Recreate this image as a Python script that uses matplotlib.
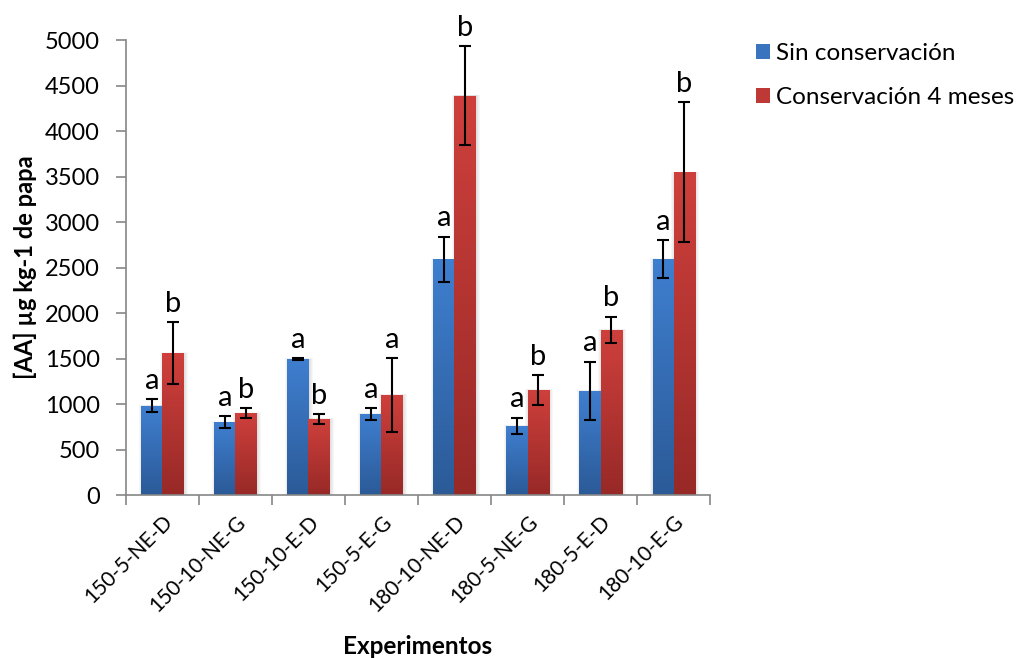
import matplotlib
matplotlib.use("Agg")
import matplotlib.pyplot as plt
import numpy as np
from matplotlib.colors import LinearSegmentedColormap
from matplotlib.patches import Rectangle

plt.rcParams['font.family'] = ['Lato', 'DejaVu Sans']

experimentos = ['150-5-NE-D', '150-10-NE-G', '150-10-E-D', '150-5-E-G',
                '180-10-NE-D', '180-5-NE-G', '180-5-E-D', '180-10-E-G']
sin_cons = [980, 800, 1495, 890, 2590, 758, 1143, 2593]
sin_err = [70, 65, 8, 65, 247, 92, 320, 205]
con_cons = [1560, 900, 835, 1099, 4390, 1154, 1813, 3546]
con_err = [340, 55, 55, 405, 540, 165, 145, 770]
letras_sin = ['a', 'a', 'a', 'a', 'a', 'a', 'a', 'a']
letras_con = ['b', 'b', 'b', 'a', 'b', 'b', 'b', 'b']

azul = LinearSegmentedColormap.from_list('azul', ['#2B5A97', '#3F7FD0'])
rojo = LinearSegmentedColormap.from_list('rojo', ['#972927', '#CF403C'])

fig = plt.figure(figsize=(10.19, 6.58), dpi=100)
ax = fig.add_axes([0.1236, 0.2477, 0.5732, 0.6915])

x = np.arange(len(experimentos))
w = 0.288
px = 1 / 73.0  # one pixel in category units
grad = np.linspace(0, 1, 256).reshape(-1, 1)

def barras(xs, vals, cmap):
    bars = ax.bar(xs, vals, w, color='none', edgecolor='none', zorder=2)
    for b in bars:
        x0, h = b.get_x(), b.get_height()
        # soft shadow behind each bar
        for k in range(1, 5):
            ax.add_patch(Rectangle((x0 - (k - 1.5) * px, 0), w + (2 * k - 1) * px,
                                   h + k * 2, facecolor='black', alpha=0.03,
                                   edgecolor='none', zorder=1.5))
        im = ax.imshow(grad, cmap=cmap, origin='lower', aspect='auto',
                       extent=(x0, x0 + w, 0, h), zorder=2)
        im.set_clip_path(b)
    return bars

barras(x - w / 2, sin_cons, azul)
barras(x + w / 2, con_cons, rojo)

ax.errorbar(x - w / 2, sin_cons, yerr=sin_err, fmt='none', ecolor='black',
            elinewidth=1.5, capsize=4.5, capthick=1.5, zorder=3)
ax.errorbar(x + w / 2, con_cons, yerr=con_err, fmt='none', ecolor='black',
            elinewidth=1.5, capsize=4.5, capthick=1.5, zorder=3)

for i in range(len(x)):
    ax.text(x[i] - w / 2, sin_cons[i] + sin_err[i] + 60, letras_sin[i],
            ha='center', va='bottom', fontsize=21)
    ax.text(x[i] + w / 2, con_cons[i] + con_err[i] + 60, letras_con[i],
            ha='center', va='bottom', fontsize=21)

ax.set_xlim(-0.5, len(x) - 0.5)
ax.set_ylim(0, 5000)
ax.set_yticks(np.arange(0, 5001, 500))
ax.set_xticks(x)
ax.set_xticklabels(experimentos, rotation=45, ha='right', va='top',
                   rotation_mode='anchor', fontsize=15)
ax.set_xticks(np.arange(-0.5, len(x), 1), minor=True)
ax.tick_params(axis='x', which='major', length=0, pad=12)
ax.tick_params(axis='x', which='minor', length=7, color='#868686', width=1.2)
ax.tick_params(axis='y', length=7, color='#868686', width=1.2, labelsize=17, pad=12)

for s in ['top', 'right']:
    ax.spines[s].set_visible(False)
for s in ['left', 'bottom']:
    ax.spines[s].set_color('#868686')
    ax.spines[s].set_linewidth(1.2)

ax.set_ylabel('[AA] µg kg-1 de papa', fontsize=17, fontweight='bold', labelpad=5)
ax.set_xlabel('Experimentos', fontsize=17.5, fontweight='bold', labelpad=14)

h1 = Rectangle((0, 0), 1, 1, facecolor='#3A74BE')
h2 = Rectangle((0, 0), 1, 1, facecolor='#BE3936')
fig.legend([h1, h2], ['Sin conservación', 'Conservación 4 meses'],
           loc='upper left', bbox_to_anchor=(0.72, 0.968), frameon=False,
           fontsize=17.5, handlelength=0.6, handleheight=0.6,
           handletextpad=0.25, labelspacing=0.95)

fig.savefig('out.png', dpi=100)
